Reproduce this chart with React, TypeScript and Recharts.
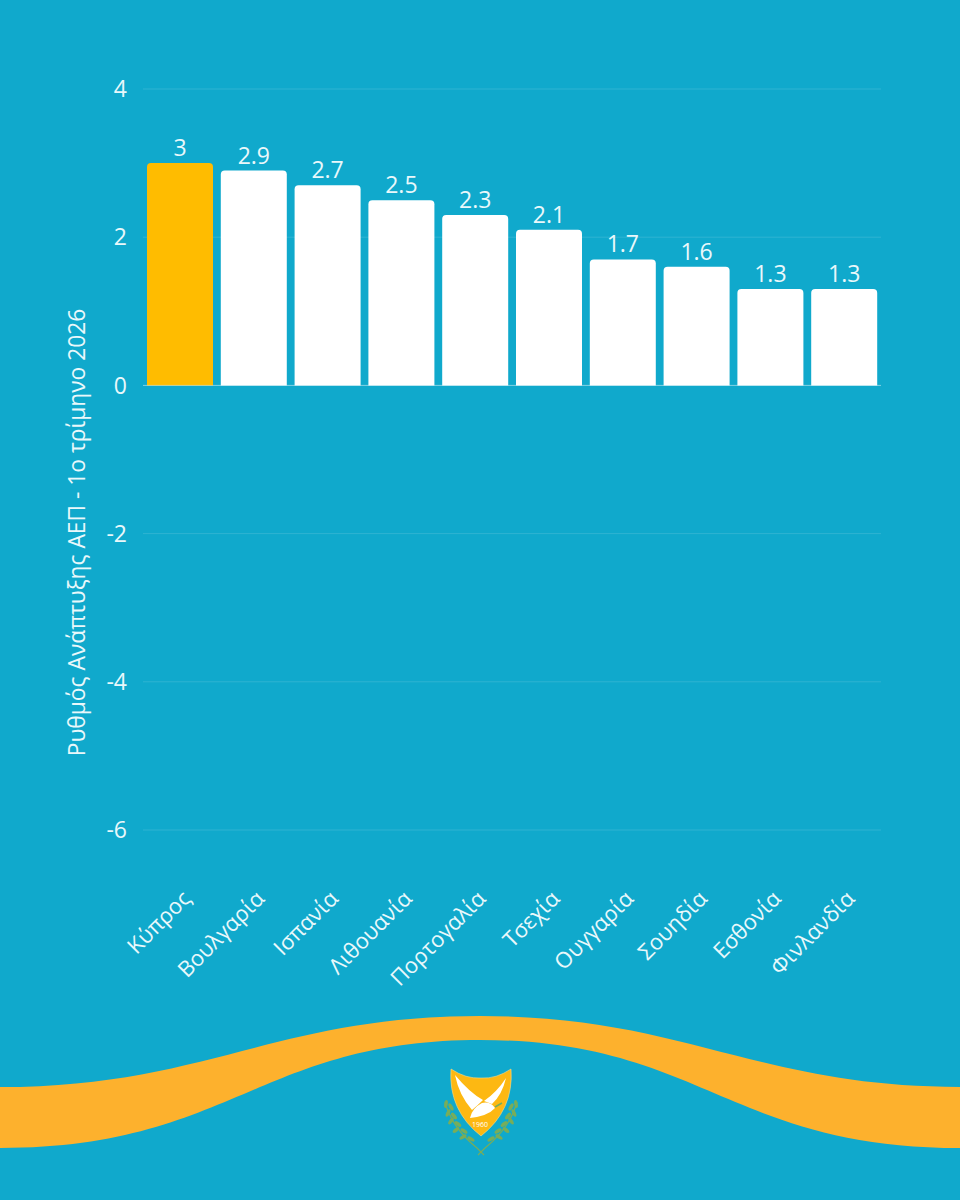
import React from 'react';
import { BarChart, Bar, XAxis, YAxis, CartesianGrid, Cell, LabelList, ReferenceLine } from 'recharts';

const countries = ['Κύπρος', 'Βουλγαρία', 'Ισπανία', 'Λιθουανία', 'Πορτογαλία', 'Τσεχία', 'Ουγγαρία', 'Σουηδία', 'Εσθονία', 'Φινλανδία'];
const growth = [3, 2.9, 2.7, 2.5, 2.3, 2.1, 1.7, 1.6, 1.3, 1.3];
const yTicks = [-6, -4, -2, 0, 2, 4];
const yTitle = 'Ρυθμός Ανάπτυξης ΑΕΠ - 1ο τρίμηνο 2026';

const data = countries.map((name, i) => ({ name, value: growth[i] }));

const FONT = '"Open Sans", "Noto Sans", sans-serif';
const BG = '#10a9cc';
const TEXT = '#e9f8fb';

function CountryTick({ x, y, payload }: any) {
    return (
        <text
            x={x + 12}
            y={y + 62}
            transform={`rotate(-45 ${x + 12} ${y + 62})`}
            textAnchor="end"
            fill={TEXT}
            fontSize={22}
            fontFamily={FONT}
        >
            {payload.value}
        </text>
    );
}

function Leaves({ flip }: { flip?: boolean }) {
    const leaves = [
        [446, 1104, 10], [451, 1107, -30], [448, 1113, 25], [454, 1116, -40], [451, 1121, 35],
        [458, 1124, -50], [456, 1130, 50], [464, 1131, -55], [463, 1137, 60], [471, 1139, -60],
    ];
    return (
        <g transform={flip ? 'translate(962 0) scale(-1 1)' : undefined} fill="#78ad5a">
            {leaves.map(([cx, cy, r], i) => (
                <ellipse key={i} cx={cx} cy={cy} rx={1.8} ry={4} transform={`rotate(${r} ${cx} ${cy})`} />
            ))}
            <path d="M445 1102 Q452 1128 477 1148 L484 1155" fill="none" stroke="#78ad5a" strokeWidth={1.2} />
        </g>
    );
}

// wave and coat of arms at the bottom of the card
function Footer() {
    return (
        <svg width={960} height={1200} style={{ position: 'absolute', left: 0, top: 0, pointerEvents: 'none' }}>
            <path
                d="M0 1087 C205 1087 275 1016 480 1016 C685 1016 755 1087 960 1087 L960 1148 C730 1148 700 1040 480 1040 C260 1040 230 1148 0 1148 Z"
                fill="#fdb12d"
            />
            <Leaves />
            <Leaves flip />
            <path
                d="M451 1069 Q466 1079 481 1078 Q496 1079 511 1069 Q514 1110 481 1136 Q448 1110 451 1069 Z"
                fill="#fdb812"
                stroke="#f6dc8c"
                strokeWidth={0.6}
            />
            <g fill="#ffffff">
                <path d="M455 1075 Q459 1095 472 1110 Q478 1105 483 1100 Q470 1093 455 1075 Z" />
                <path d="M506 1078 Q497 1092 484 1101 L492 1104 Q502 1095 506 1078 Z" />
                <path d="M470 1118 Q472 1108 482 1103 Q490 1101 495 1108 Q488 1116 470 1118 Z" />
            </g>
            <path d="M495 1107 L502 1103" stroke="#78ad5a" strokeWidth={1.5} />
            <text x={480} y={1127} textAnchor="middle" fontSize={7} fill="#ffffff" fontFamily={FONT}>1960</text>
        </svg>
    );
}

export default function App() {
    return (
        <div style={{ position: 'absolute', left: 0, top: 0, width: 960, height: 1200, background: BG, overflow: 'hidden' }}>
            <BarChart
                width={960}
                height={1200}
                data={data}
                margin={{ top: 89, right: 79, bottom: 0, left: 0 }}
                barSize={66}
            >
                <CartesianGrid vertical={false} stroke="#ffffff" strokeOpacity={0.13} />
                <XAxis
                    dataKey="name"
                    height={370}
                    axisLine={false}
                    tickLine={false}
                    interval={0}
                    tick={<CountryTick />}
                />
                <YAxis
                    width={143}
                    domain={[-6, 4]}
                    ticks={yTicks}
                    axisLine={false}
                    tickLine={false}
                    tickMargin={10}
                    tick={{ fill: TEXT, fontSize: 23, fontFamily: FONT }}
                    label={{
                        value: yTitle,
                        angle: -90,
                        position: 'center',
                        dx: 5,
                        dy: 73,
                        fill: TEXT,
                        fontSize: 22.8,
                        fontFamily: FONT,
                    }}
                />
                <ReferenceLine y={0} stroke="#ffffff" strokeOpacity={0.4} />
                <Bar dataKey="value" fill="#ffffff" radius={[4, 4, 0, 0]} isAnimationActive={false}>
                    {data.map((d, i) => (
                        <Cell key={d.name} fill={i === 0 ? '#ffbc00' : '#ffffff'} />
                    ))}
                    <LabelList dataKey="value" position="top" offset={7} fill={TEXT} fontSize={23} fontFamily={FONT} />
                </Bar>
            </BarChart>
            <Footer />
        </div>
    );
}
